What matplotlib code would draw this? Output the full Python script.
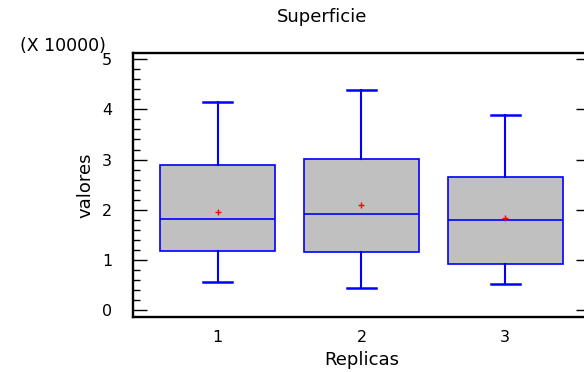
import matplotlib
matplotlib.use("Agg")
from matplotlib import pyplot as plt
from matplotlib.ticker import MultipleLocator

# values (raw units, axis shows them x 10000)
replicas = ["1", "2", "3"]
whislo = [5600, 4400, 5100]
q1 = [11800, 11500, 9200]
med = [18150, 19200, 17900]
q3 = [28900, 30100, 26500]
whishi = [41400, 43900, 38900]
means = [19600, 21000, 18400]
scale = 10000.0

plt.rcParams['font.family'] = ['DejaVu Sans']

fig = plt.figure(figsize=(5.84, 3.72), dpi=100)
ax = fig.add_axes([0.2277, 0.1478, 0.7825, 0.7105])

stats = []
for i in range(len(replicas)):
    stats.append({'label': replicas[i],
                  'whislo': whislo[i] / scale, 'q1': q1[i] / scale,
                  'med': med[i] / scale, 'q3': q3[i] / scale,
                  'whishi': whishi[i] / scale, 'mean': means[i] / scale,
                  'fliers': []})

ax.bxp(stats, positions=[1, 2, 3], widths=0.8, capwidths=0.2,
       patch_artist=True, showmeans=True,
       boxprops=dict(facecolor="#c0c0c0", edgecolor="#0000ff", linewidth=1.2),
       medianprops=dict(color="#0000ff", linewidth=1.2),
       whiskerprops=dict(color="#0000ff", linewidth=1.5),
       capprops=dict(color="#0000ff", linewidth=1.8),
       meanprops=dict(marker="+", markeredgecolor="red", markersize=5,
                      markeredgewidth=1))

ax.set_xlim(0.41, 3.59)
ax.set_ylim(-0.14, 5.13)
ax.yaxis.set_major_locator(MultipleLocator(1))
ax.yaxis.set_minor_locator(MultipleLocator(0.2))
ax.tick_params(axis='y', which='major', direction='in', length=10, width=1,
               left=True, right=True, labelsize=11.5, pad=15)
ax.tick_params(axis='y', which='minor', direction='in', length=5, width=1,
               left=True, right=False)
ax.tick_params(axis='x', length=0, labelsize=11.5, pad=9)
for s in ax.spines.values():
    s.set_linewidth(1.7)

ax.set_xlabel("Replicas", fontsize=13, labelpad=5)
ax.set_ylabel("valores", fontsize=13, labelpad=5)
fig.text(322 / 584, 1 - 17 / 372, "Superficie", fontsize=13,
         ha='center', va='center')
fig.text(63 / 584, 1 - 46 / 372, "(X 10000)", fontsize=12.5,
         ha='center', va='center')

fig.savefig("out.png", dpi=100)
